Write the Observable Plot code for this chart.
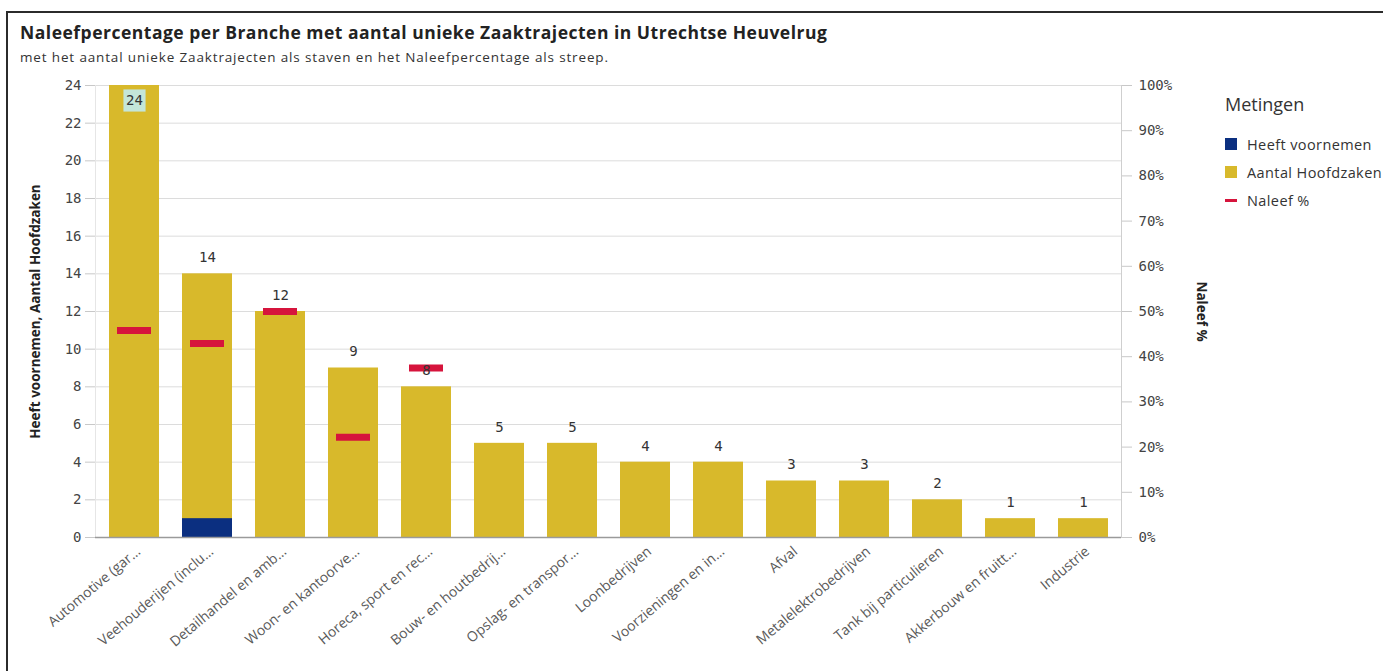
<!DOCTYPE html>
<html><head><meta charset="utf-8">
<script src="https://cdn.jsdelivr.net/npm/d3@7"></script>
<script src="https://cdn.jsdelivr.net/npm/@observablehq/plot@0.6"></script>
<style>
body{margin:0;background:#fff;width:1383px;height:671px;overflow:hidden;position:relative;font-family:"Open Sans",sans-serif}
#frame{position:absolute;left:6px;top:11px;width:1400px;height:700px;border-left:2px solid #2b2b2b;border-top:2px solid #2b2b2b}
#title{position:absolute;left:20px;top:20px;font-size:17.5px;letter-spacing:0.5px;font-weight:bold;color:#222;white-space:nowrap}
#subtitle{position:absolute;left:20px;top:48px;font-size:13.5px;letter-spacing:0.85px;color:#333;white-space:nowrap}
#chart{position:absolute;left:0;top:70px}
#legend{position:absolute;left:1225px;top:92px;color:#333;white-space:nowrap}
#legend .lt{font-size:18px;margin-bottom:14px}
#legend .it{display:flex;align-items:center;height:28px;font-size:14.5px;letter-spacing:0.4px}
#legend .sw{width:12px;height:12px;margin-right:10px;flex:none}
#legend .dash{width:12px;height:3px;margin-right:10px;flex:none}
</style></head>
<body>
<div id="frame"></div>
<div id="title">Naleefpercentage per Branche met aantal unieke Zaaktrajecten in Utrechtse Heuvelrug</div>
<div id="subtitle">met het aantal unieke Zaaktrajecten als staven en het Naleefpercentage als streep.</div>
<div id="chart"></div>
<div id="legend"></div>
<script>
const categories = ["Automotive (gar...", "Veehouderijen (inclu...", "Detailhandel en amb...", "Woon- en kantoorve...", "Horeca, sport en rec...", "Bouw- en houtbedrij...", "Opslag- en transpor...", "Loonbedrijven", "Voorzieningen en in...", "Afval", "Metalelektrobedrijven", "Tank bij particulieren", "Akkerbouw en fruitt...", "Industrie"];
const aantalHoofdzaken = [24, 14, 12, 9, 8, 5, 5, 4, 4, 3, 3, 2, 1, 1];
const heeftVoornemen = [0, 1, 0, 0, 0, 0, 0, 0, 0, 0, 0, 0, 0, 0];
const naleefPct = [45.8, 42.9, 50, 22.2, 37.5, null, null, null, null, null, null, null, null, null];
const leftTicks = [0, 2, 4, 6, 8, 10, 12, 14, 16, 18, 20, 22, 24];
const rightTicks = [0, 10, 20, 30, 40, 50, 60, 70, 80, 90, 100];
const legendItems = [
  {label: "Heeft voornemen", color: "#0b2f80", kind: "sw"},
  {label: "Aantal Hoofdzaken", color: "#d8b92b", kind: "sw"},
  {label: "Naleef %", color: "#d6143c", kind: "dash"}
];

const yMax = 24;
const data = categories.map((c, i) => ({cat: c, aantal: aantalHoofdzaken[i], voornemen: heeftVoornemen[i], pct: naleefPct[i]}));
const maxVal = d3.max(aantalHoofdzaken);
const mono = "DejaVu Sans Mono, monospace";

const chart = Plot.plot({
  width: 1210,
  height: 601,
  marginLeft: 95,
  marginRight: 89,
  marginTop: 15,
  marginBottom: 134,
  style: {background: "transparent", color: "#444"},
  x: {domain: categories, paddingInner: 0.32, paddingOuter: 0.16, label: null},
  y: {domain: [0, yMax], label: null},
  marks: [
    Plot.gridY(leftTicks, {stroke: "#dcdcdc", strokeOpacity: 1}),
    Plot.frame({anchor: "left", stroke: "#e6e6e6"}),
    Plot.frame({anchor: "right", stroke: "#cfcfcf"}),
    Plot.axisY(leftTicks, {anchor: "left", tickSize: 10, tickPadding: 4, stroke: "#c8c8c8", fill: "#444", fontFamily: mono, fontSize: 14, label: null}),
    Plot.axisY(rightTicks.map(p => p * yMax / 100), {anchor: "right", tickSize: 10, tickPadding: 7, stroke: "#c8c8c8", fill: "#444", fontFamily: mono, fontSize: 14, label: null, tickFormat: d => Math.round(d * 100 / yMax) + "%"}),
    Plot.axisX({tickRotate: -40, tickSize: 0, tickPadding: 12, fill: "#5a5a5a", fontSize: 14, fontFamily: "Open Sans", label: null, dx: 4, style: "letter-spacing:0.5px"}),
    Plot.barY(data, {x: "cat", y: "aantal", fill: "#d8b92b"}),
    Plot.barY(data.filter(d => d.voornemen > 0), {x: "cat", y: "voornemen", fill: "#0b2f80"}),
    Plot.ruleY([0], {stroke: "#9a9a9a", strokeWidth: 1.5}),
    Plot.tickY(data.filter(d => d.pct != null), {x: "cat", y: d => d.pct * yMax / 100, stroke: "#d6143c", strokeWidth: 7, insetLeft: 8, insetRight: 8}),
    Plot.dot(data.filter(d => d.aantal === maxVal), {x: "cat", y: "aantal", symbol: "square", r: 12.5, fill: "#c4e6d9", dy: 15}),
    Plot.text(data.filter(d => d.aantal === maxVal), {x: "cat", y: "aantal", text: "aantal", dy: 15, fontFamily: mono, fontSize: 14, fill: "#333"}),
    Plot.text(data.filter(d => d.aantal !== maxVal), {x: "cat", y: "aantal", text: "aantal", dy: -16, fontFamily: mono, fontSize: 14, fill: "#333"}),
    Plot.text(["Heeft voornemen, Aantal Hoofdzaken"], {frameAnchor: "left", textAnchor: "middle", dx: -60, rotate: -90, fontWeight: "bold", fontSize: 13.5, fontFamily: "Open Sans", fill: "#222"}),
    Plot.text(["Naleef %"], {frameAnchor: "right", textAnchor: "middle", dx: 80, rotate: 90, fontWeight: "bold", fontSize: 13.5, fontFamily: "Open Sans", fill: "#222"})
  ]
});
document.getElementById("chart").appendChild(chart);

const lg = document.getElementById("legend");
lg.innerHTML = '<div class="lt">Metingen</div>' + legendItems.map(it =>
  `<div class="it"><div class="${it.kind}" style="background:${it.color}"></div>${it.label}</div>`).join("");
</script>
</body></html>
